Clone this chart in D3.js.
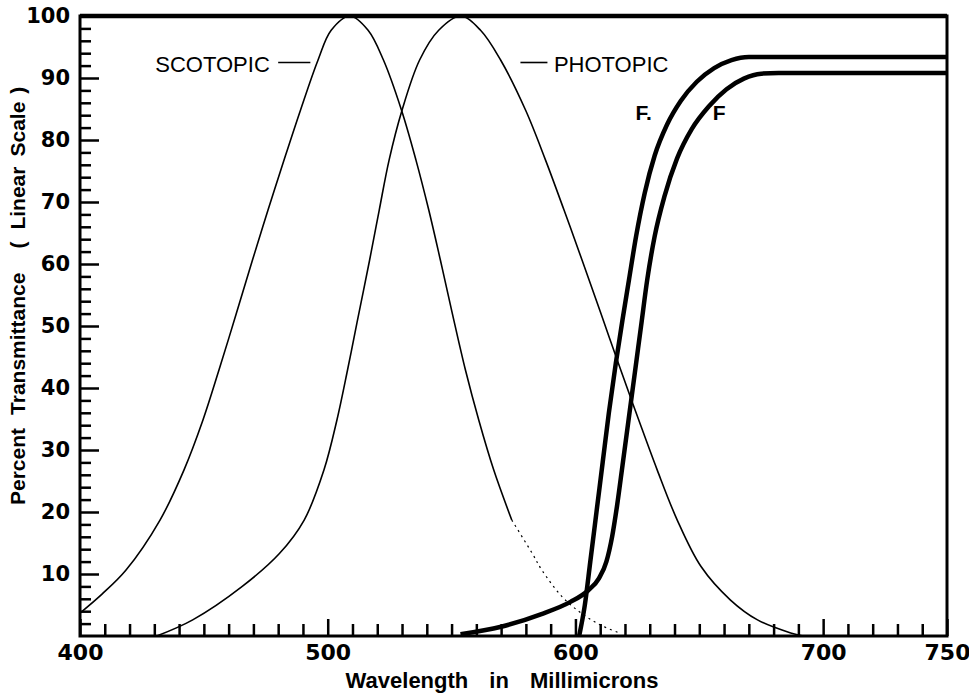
<!DOCTYPE html>
<meta charset="utf-8">
<title>Percent Transmittance</title>
<script src="https://cdn.jsdelivr.net/npm/d3@7"></script>
<style>
  body { margin: 0; background: #fff; }
  svg { display: block; }
  .tick line { stroke: #000; stroke-width: 2.5px; }
  .xaxis .tick text { font-family: "DejaVu Sans", sans-serif; font-weight: bold; font-size: 22px; fill: #000; }
  .yaxis .tick text { font-family: "DejaVu Sans", sans-serif; font-weight: bold; font-size: 21px; fill: #000; }
  .thin { fill: none; stroke: #000; stroke-width: 1.6px; }
  .thick { fill: none; stroke: #000; stroke-width: 4.5px; }
  text.title { font-family: "Liberation Sans", Arial, sans-serif; font-weight: bold; font-size: 22px; fill: #000; }
  text.note { font-family: "Liberation Sans", Arial, sans-serif; font-size: 22px; fill: #000; }
  text.flabel { font-family: "Liberation Sans", Arial, sans-serif; font-weight: bold; font-size: 21px; fill: #000; }
</style>
<div id="chart"></div>
<script>

// [wavelength nm, percent]
var scotopic = [[400,3.7],[409,6.8],[418.5,10.6],[432.3,18.7],[442,26.8],[449.6,34.8],[456.1,42.9],
  [463.1,52],[469.6,60.6],[475.9,68.7],[482.4,76.8],[489,84.8],[496.1,92.9],[501.4,97.7],[509,100],
  [516.3,97.7],[522.5,92.9],[529.8,84.8],[535.6,76.8],[540.8,68.7],[545.5,60.6],[550.2,52.2],
  [555.6,42.9],[561,34.8],[567,26.8],[574.3,18.7]];
var scotopicTail = [[574.3,18.7],[582.6,13.3],[586.5,10.6],[594.7,6.3],[602.3,3.7],[610,1.8],[618.3,0.4]];
var photopic = [[431,0],[445.5,2.6],[465.5,8],[480.5,13.3],[490.5,18.7],[498.5,26.8],[503.7,34.8],
  [508,42.9],[511.8,50.5],[516.9,60.6],[520.8,68.7],[524.8,76.8],[530,84.8],[537.1,92.9],[544.8,97.7],
  [553.6,100],[561.7,97.7],[569.8,92.9],[579.9,84.8],[587.9,76.8],[595.4,68.7],[602.7,60.6],[610.3,52],
  [618.3,42.9],[625.6,34.8],[633,26.8],[641.1,18.7],[650.7,11.2],[662.6,5.8],[673.5,2.6],[686.9,0.5],[691.9,0]];
var filterFm = [[601.5,0],[603.8,5],[606,12],[608.5,20],[611,28],[613.5,36],[616.3,44],[619,51],
  [621.6,57.4],[624.5,64.5],[628,71.5],[632,77.5],[637,82.5],[642.5,86.3],[649,89.4],[656,91.6],
  [663,92.9],[670,93.4],[750,93.4]];
var filterF = [[553.6,0.3],[570,1.5],[586,3.5],[598,5.5],[605,7.3],[609.5,9.3],[612.5,12],[614.8,16],
  [616.8,21],[619,27.5],[621.5,35],[624,42.5],[626.5,50],[629,57.5],[632,64.5],[636,71],[641,77],
  [647,81.8],[654,85.5],[661,88.2],[668,89.9],[675,90.7],[682,90.8],[750,90.8]];

var xLabels = [400, 500, 600, 700, 750];
var yLabels = [10, 20, 30, 40, 50, 60, 70, 80, 90, 100];

// curve names with their leader dashes [nm from, nm to, percent]
var notes = [
  {text: "SCOTOPIC", nm: 430.4, pct: 91, dash: [480, 493, 92.5]},
  {text: "PHOTOPIC", nm: 591.3, pct: 91, dash: [577.8, 588.7, 92.5]}
];

var margin = {top: 16, right: 22, bottom: 64, left: 80},
    width = 969 - margin.left - margin.right,
    height = 700 - margin.top - margin.bottom;

var svg = d3.select("#chart")
  .append("svg")
    .attr("width", width + margin.left + margin.right)
    .attr("height", height + margin.top + margin.bottom)
  .append("g")
    .attr("transform", "translate(" + margin.left + "," + margin.top + ")");

var x = d3.scaleLinear().domain([400, 750]).range([0, width]);
var y = d3.scaleLinear().domain([0, 100]).range([height, 0]);

// y ticks, every 2 percent, pointing into the plot
svg.append("g")
  .attr("class", "yaxis")
  .call(d3.axisLeft(y).tickValues(d3.range(2, 100, 2).filter(function(v) { return v % 10; }))
    .tickSize(-11).tickFormat(""))
  .select(".domain").remove();
svg.append("g")
  .attr("class", "yaxis")
  .call(d3.axisLeft(y).tickValues(yLabels).tickSize(-19).tickPadding(10))
  .select(".domain").remove();

// x ticks, every 10 nm
svg.append("g")
  .attr("class", "xaxis")
  .attr("transform", "translate(0," + height + ")")
  .call(d3.axisBottom(x).tickValues(d3.range(410, 750, 10).filter(function(v) { return v % 100; }))
    .tickSize(-12).tickFormat(""))
  .select(".domain").remove();
svg.append("g")
  .attr("class", "xaxis")
  .attr("transform", "translate(0," + height + ")")
  .call(d3.axisBottom(x).tickValues(xLabels).tickSize(-17).tickPadding(8))
  .select(".domain").remove();

// frame
svg.append("rect")
  .attr("width", width)
  .attr("height", height)
  .attr("fill", "none")
  .attr("stroke", "#000")
  .attr("stroke-width", 3);
svg.append("line")
  .attr("x1", 0).attr("x2", width)
  .attr("y1", y(100)).attr("y2", y(100))
  .attr("stroke", "#000")
  .attr("stroke-width", 4.5);

// bell curves look best with catmull-rom, the filter steps with monotone (no overshoot on the plateau)
var bell = d3.line()
  .x(function(d) { return x(d[0]); })
  .y(function(d) { return y(d[1]); })
  .curve(d3.curveCatmullRom.alpha(0.5));
var step = d3.line()
  .x(function(d) { return x(d[0]); })
  .y(function(d) { return y(d[1]); })
  .curve(d3.curveMonotoneX);

svg.append("path").datum(scotopic).attr("class", "thin").attr("d", bell);
svg.append("path").datum(scotopicTail).attr("class", "thin")
  .attr("stroke-dasharray", "2,4").style("stroke-width", "1.2px").attr("d", bell);
svg.append("path").datum(photopic).attr("class", "thin").attr("d", bell);
svg.append("path").datum(filterFm).attr("class", "thick").attr("d", step);
svg.append("path").datum(filterF).attr("class", "thick").attr("d", step);

// labels
notes.forEach(function(n) {
  svg.append("text")
    .attr("class", "note")
    .attr("x", x(n.nm))
    .attr("y", y(n.pct))
    .text(n.text);
  svg.append("line")
    .attr("x1", x(n.dash[0])).attr("x2", x(n.dash[1]))
    .attr("y1", y(n.dash[2])).attr("y2", y(n.dash[2]))
    .attr("stroke", "#000")
    .attr("stroke-width", 1.6);
});

svg.append("text")
  .attr("class", "flabel")
  .attr("x", x(624.3))
  .attr("y", y(83.2))
  .text("F.");

svg.append("text")
  .attr("class", "flabel")
  .attr("x", x(655.4))
  .attr("y", y(83.2))
  .text("F");

// axis titles
svg.append("text")
  .attr("class", "title")
  .attr("x", 422)
  .attr("y", height + 52)
  .attr("text-anchor", "middle")
  .style("word-spacing", "15px")
  .text("Wavelength in Millimicrons");

var ytitle = svg.append("text")
  .attr("class", "title")
  .attr("transform", "rotate(-90)")
  .attr("x", -489)
  .attr("y", -55)
  .style("font-size", "21px");
ytitle.append("tspan").text("Percent");
ytitle.append("tspan").attr("dx", 13).text("Transmittance");
ytitle.append("tspan").attr("dx", 24).text("(");
ytitle.append("tspan").attr("dx", 12).text("Linear");
ytitle.append("tspan").attr("dx", 10).text("Scale");
ytitle.append("tspan").attr("dx", 8).text(")");

</script>
